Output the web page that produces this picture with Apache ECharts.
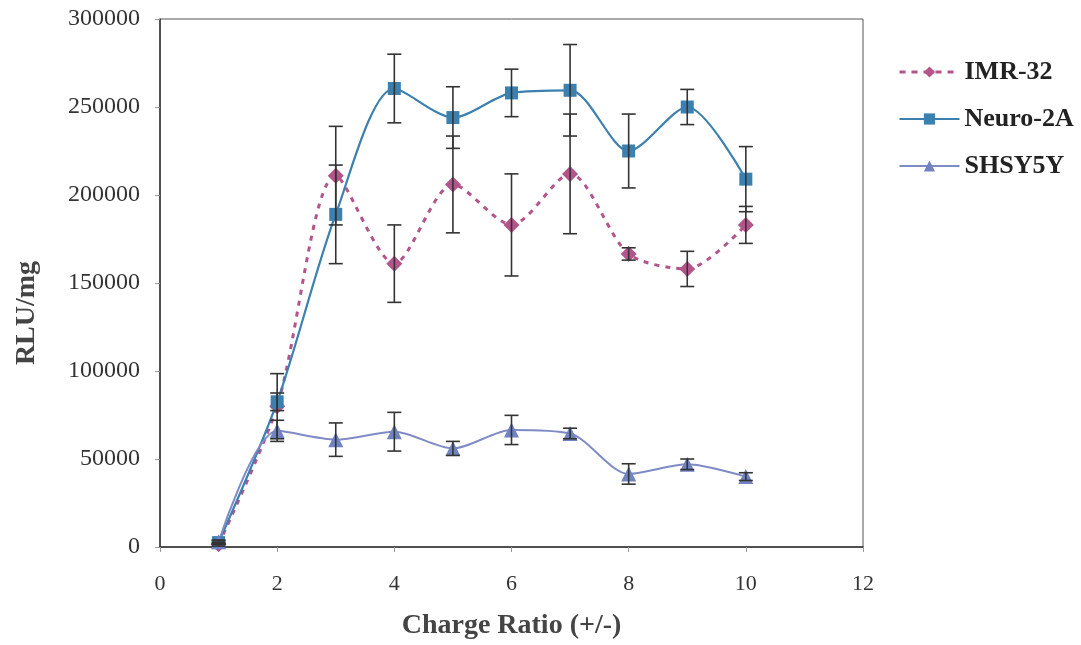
<!DOCTYPE html>
<html>
<head>
<meta charset="utf-8">
<script src="https://cdn.jsdelivr.net/npm/echarts@6/dist/echarts.min.js"></script>
<style>
html,body{margin:0;padding:0;background:#fff;}
#chart{width:1081px;height:645px;}
</style>
</head>
<body>
<div id="chart"></div>
<script>
// ---- data ----
var chargeRatio = [1, 2, 3, 4, 5, 6, 7, 8, 9, 10];
var imr32 = [1500, 80000, 211000, 161000, 206000, 183000, 212000, 166500, 158000, 183000];
var imr32Err = [1000, 18500, 28000, 22000, 27500, 29000, 34000, 3500, 10000, 10500];
var neuro2A = [2500, 82500, 189000, 260500, 244000, 258000, 259500, 225000, 250000, 209000];
var neuro2AErr = [1000, 5000, 28000, 19500, 17500, 13500, 26000, 21000, 10000, 18500];
var shsy5y = [3000, 66000, 61000, 65500, 56000, 66500, 64500, 41500, 47000, 40000];
var shsy5yErr = [1000, 6000, 9500, 11000, 4000, 8300, 3000, 5800, 3000, 2200];
var seriesNames = ['IMR-32', 'Neuro-2A', 'SHSY5Y'];
var xTitle = 'Charge Ratio (+/-)';
var yTitle = 'RLU/mg';

var serif = '"Liberation Serif", "DejaVu Serif", serif';

function pts(vals) { return chargeRatio.map(function (x, i) { return [x, vals[i]]; }); }
function errPts(vals, errs) { return chargeRatio.map(function (x, i) { return [x, vals[i] - errs[i], vals[i] + errs[i]]; }); }

function errSeries(vals, errs) {
  return {
    type: 'custom',
    z: 5,
    silent: true,
    data: errPts(vals, errs),
    renderItem: function (params, api) {
      var x = api.value(0);
      var lo = api.coord([x, api.value(1)]);
      var hi = api.coord([x, api.value(2)]);
      var hw = 7;
      var st = { stroke: '#333', lineWidth: 1.6 };
      return {
        type: 'group',
        children: [
          { type: 'line', shape: { x1: lo[0], y1: lo[1], x2: hi[0], y2: hi[1] }, style: st },
          { type: 'line', shape: { x1: lo[0] - hw, y1: lo[1], x2: lo[0] + hw, y2: lo[1] }, style: st },
          { type: 'line', shape: { x1: hi[0] - hw, y1: hi[1], x2: hi[0] + hw, y2: hi[1] }, style: st }
        ]
      };
    }
  };
}

var cIMR = '#B3558A', cNeuro = '#3C80B0', cSH = '#7F8BC6';

var chart = echarts.init(document.getElementById('chart'));
chart.setOption({
  animation: false,
  backgroundColor: '#fff',
  grid: { left: 160, top: 19, right: 218, bottom: 96, show: true, borderColor: '#555', borderWidth: 1 },
  graphic: [{
    type: 'text', x: 27, y: 313, rotation: Math.PI / 2,
    style: { text: yTitle, fontFamily: serif, fontWeight: 'bold', fontSize: 28, fill: '#444', align: 'center', verticalAlign: 'middle' }
  }],
  legend: {
    orient: 'vertical', left: 893, top: 54, itemGap: 21, itemWidth: 60, itemHeight: 14,
    data: [
      { name: seriesNames[0], lineStyle: { type: [6, 6], width: 3 } },
      { name: seriesNames[1] },
      { name: seriesNames[2] }
    ],
    textStyle: { fontFamily: serif, fontWeight: 'bold', fontSize: 26, color: '#222' }
  },
  xAxis: {
    type: 'value', min: 0, max: 12, interval: 2,
    name: xTitle, nameLocation: 'middle', nameGap: 65,
    nameTextStyle: { fontFamily: serif, fontWeight: 'bold', fontSize: 28, color: '#444' },
    axisLine: { lineStyle: { color: '#333', width: 1.5 } },
    axisTick: { show: true, inside: false, length: 5, lineStyle: { color: '#999' } },
    axisLabel: { fontFamily: serif, fontSize: 22, color: '#333', margin: 26 },
    splitLine: { show: false }
  },
  yAxis: {
    type: 'value', min: 0, max: 300000, interval: 50000,
    axisLine: { show: true, lineStyle: { color: '#333', width: 1.5 } },
    axisTick: { show: true, inside: false, length: 5, lineStyle: { color: '#999' } },
    axisLabel: { fontFamily: serif, fontSize: 24, color: '#333', margin: 20, formatter: function (v) { return String(v); } },
    splitLine: { show: false }
  },
  series: [
    {
      name: seriesNames[0], type: 'line', smooth: 0.28, data: pts(imr32), z: 3,
      symbol: 'diamond', symbolSize: 16,
      lineStyle: { color: cIMR, width: 3, type: [5, 6] },
      itemStyle: { color: cIMR }
    },
    {
      name: seriesNames[1], type: 'line', smooth: 0.28, data: pts(neuro2A), z: 4,
      symbol: 'rect', symbolSize: 13,
      lineStyle: { color: cNeuro, width: 2.2 },
      itemStyle: { color: cNeuro }
    },
    {
      name: seriesNames[2], type: 'line', smooth: 0.28, data: pts(shsy5y), z: 4,
      symbol: 'triangle', symbolSize: 15,
      lineStyle: { color: cSH, width: 2 },
      itemStyle: { color: '#7082BF' }
    },
    errSeries(imr32, imr32Err),
    errSeries(neuro2A, neuro2AErr),
    errSeries(shsy5y, shsy5yErr)
  ]
});
</script>
</body>
</html>
